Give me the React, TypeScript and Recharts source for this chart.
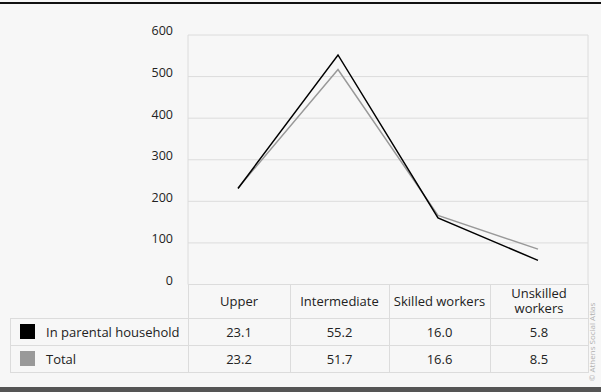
import React from "react";
import { LineChart, Line, XAxis, YAxis, CartesianGrid } from "recharts";

const categories = ["Upper", "Intermediate", "Skilled workers", "Unskilled workers"];
const parentalLine = [231, 552, 160, 58];
const totalLine = [232, 517, 166, 85];
const parentalTable = ["23.1", "55.2", "16.0", "5.8"];
const totalTable = ["23.2", "51.7", "16.6", "8.5"];
const yTicks = [0, 100, 200, 300, 400, 500, 600];
const seriesNames = ["In parental household", "Total"];

const data = categories.map((c, i) => ({ name: c, parental: parentalLine[i], total: totalLine[i] }));

const FONT = "'Open Sans', sans-serif";
const TEXT = "#222";
const GRID = "#dcdcdc";

const W = 601;
const H = 392;
const PL = 188;
const PR = 588;
const PT = 35;
const PB = 284.5;
const colEdges = [188, 290, 389, 490, 588];
const rowEdges = [284, 318, 345, 372];

const YTick = (props: any) => {
  const { x, y, payload } = props;
  return (
    <text x={x} y={y - 4} dy="0.355em" textAnchor="end" fill={TEXT} fontSize={12.5} fontFamily={FONT}>
      {payload.value}
    </text>
  );
};

export default function App() {
  const tableRows = [
    { name: seriesNames[0], color: "#000", values: parentalTable },
    { name: seriesNames[1], color: "#999", values: totalTable },
  ];
  return (
    <div style={{ position: "absolute", left: 0, top: 0, width: W, height: H, background: "#f7f7f7", overflow: "hidden", fontFamily: FONT }}>
      <div style={{ position: "absolute", left: 0, top: 2, width: W, height: 2, background: "#111" }} />
      <div style={{ position: "absolute", left: 0, top: 387, width: W, height: 5, background: "#555" }} />
      <div style={{ position: "absolute", left: 0, top: 0 }}>
        <LineChart
          width={W}
          height={H}
          data={data}
          margin={{ top: PT, right: W - PR, bottom: H - PB, left: PL - 60 }}
        >
          <CartesianGrid
            stroke={GRID}
            strokeWidth={1}
            verticalCoordinatesGenerator={({ offset }: any) => [offset.left, offset.left + offset.width]}
          />
          <XAxis dataKey="name" scale="band" hide />
          <YAxis
            width={60}
            domain={[0, 600]}
            ticks={yTicks}
            axisLine={false}
            tickLine={false}
            tickSize={0}
            tickMargin={15}
            tick={<YTick />}
          />
          <Line dataKey="total" stroke="#999" strokeWidth={1.5} dot={false} isAnimationActive={false} />
          <Line dataKey="parental" stroke="#000" strokeWidth={1.5} dot={false} isAnimationActive={false} />
        </LineChart>
      </div>
      {/* table borders */}
      <svg style={{ position: "absolute", left: 0, top: 0 }} width={W} height={H}>
        {colEdges.map((x, i) => (
          <line key={"c" + i} x1={x + 0.5} x2={x + 0.5} y1={rowEdges[0]} y2={rowEdges[3]} stroke={GRID} />
        ))}
        <line x1={10.5} x2={10.5} y1={rowEdges[1]} y2={rowEdges[3]} stroke={GRID} />
        <line x1={10} x2={PR + 1} y1={rowEdges[1] + 0.5} y2={rowEdges[1] + 0.5} stroke={GRID} />
        <line x1={10} x2={PR + 1} y1={rowEdges[2] + 0.5} y2={rowEdges[2] + 0.5} stroke={GRID} />
        <line x1={10} x2={PR + 1} y1={rowEdges[3] + 0.5} y2={rowEdges[3] + 0.5} stroke={GRID} />
        <text
          transform="translate(595, 342) rotate(-90)"
          textAnchor="middle"
          fontSize={8}
          fill="#b0b0b0"
          fontFamily={FONT}
        >
          © Athens Social Atlas
        </text>
      </svg>
      {categories.map((c, i) => (
        <div
          key={"h" + i}
          style={{
            position: "absolute",
            left: colEdges[i],
            width: colEdges[i + 1] - colEdges[i],
            top: rowEdges[0],
            height: rowEdges[1] - rowEdges[0],
            display: "flex",
            alignItems: "center",
            justifyContent: "center",
            textAlign: "center",
            fontSize: 13,
            lineHeight: "15px",
            color: TEXT,
            padding: "0 2px",
            boxSizing: "border-box",
          }}
        >
          {c}
        </div>
      ))}
      {tableRows.map((r, ri) => (
        <React.Fragment key={"r" + ri}>
          <div
            style={{
              position: "absolute",
              left: 20,
              top: rowEdges[ri + 1] + (rowEdges[ri + 2] - rowEdges[ri + 1]) / 2 - 7.5,
              width: 15,
              height: 15,
              background: r.color,
            }}
          />
          <div
            style={{
              position: "absolute",
              left: 46,
              top: rowEdges[ri + 1],
              height: rowEdges[ri + 2] - rowEdges[ri + 1],
              display: "flex",
              alignItems: "center",
              fontSize: 13,
              color: TEXT,
              whiteSpace: "nowrap",
            }}
          >
            {r.name}
          </div>
          {r.values.map((v, ci) => (
            <div
              key={ci}
              style={{
                position: "absolute",
                left: colEdges[ci],
                width: colEdges[ci + 1] - colEdges[ci],
                top: rowEdges[ri + 1],
                height: rowEdges[ri + 2] - rowEdges[ri + 1],
                display: "flex",
                alignItems: "center",
                justifyContent: "center",
                fontSize: 13,
                color: TEXT,
              }}
            >
              {v}
            </div>
          ))}
        </React.Fragment>
      ))}
    </div>
  );
}
